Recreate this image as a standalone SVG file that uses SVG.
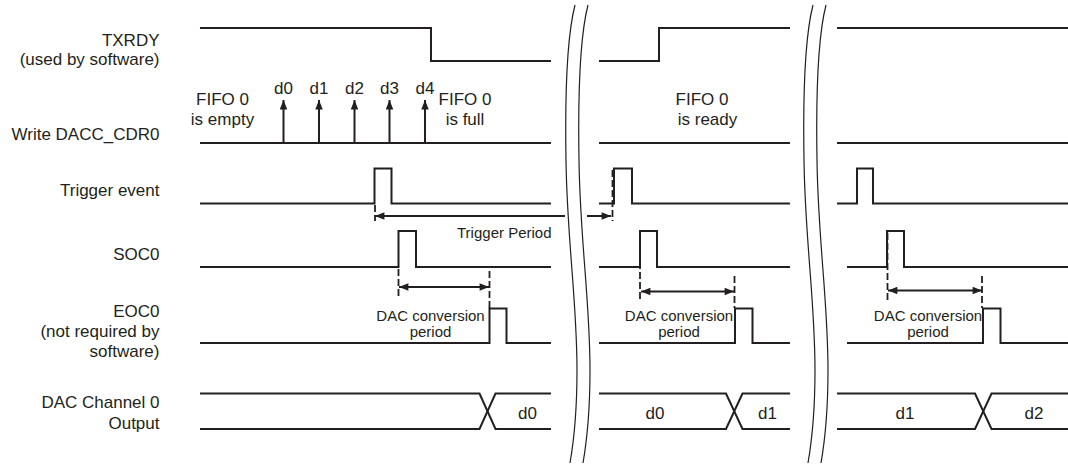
<svg xmlns="http://www.w3.org/2000/svg" width="1068" height="466" viewBox="0 0 1068 466">
<style>
.sig{fill:none;stroke:#231f20;stroke-width:2;stroke-linejoin:miter}
.dash{fill:none;stroke:#231f20;stroke-width:1.8;stroke-dasharray:7,3}
.arr{fill:none;stroke:#231f20;stroke-width:2}
.brk{fill:none;stroke:#231f20;stroke-width:1.2}
.lbl{font-family:"Liberation Sans",Arial,sans-serif;font-size:17px;fill:#231f20;text-anchor:end}
.mid{font-family:"Liberation Sans",Arial,sans-serif;font-size:17px;fill:#231f20;text-anchor:middle}
.sm{font-family:"Liberation Sans",Arial,sans-serif;font-size:15px;fill:#231f20;text-anchor:middle}
</style>
<defs>
<marker id="ah" viewBox="0 0 10 8" refX="10" refY="4" markerWidth="10" markerHeight="7.5" orient="auto-start-reverse" markerUnits="userSpaceOnUse">
<path d="M0,0 L10,4 L0,8 Z" fill="#231f20"/>
</marker>
<path id="brkshape" d="M575,5 C566,40 565,100 566,160 C567,240 577,300 577,370 C577,410 574,440 570,463"/>
</defs>
<rect width="1068" height="466" fill="#fff"/>

<g id="labels">
<text class="lbl" x="159.5" y="45.5">TXRDY</text>
<text class="lbl" x="159.5" y="64.5">(used by software)</text>
<text class="lbl" x="159.5" y="139.5">Write DACC_CDR0</text>
<text class="lbl" x="159.5" y="195.5">Trigger event</text>
<text class="lbl" x="159.5" y="259.5">SOC0</text>
<text class="lbl" x="159.5" y="316.5">EOC0</text>
<text class="lbl" x="159.5" y="336.5">(not required by</text>
<text class="lbl" x="159.5" y="356.5">software)</text>
<text class="lbl" x="159.5" y="407.5">DAC Channel 0</text>
<text class="lbl" x="159.5" y="428.5">Output</text>
</g>

<g id="txrdy">
<path class="sig" d="M200,28 H431 V61 H551"/>
<path class="sig" d="M599,61 H659 V28 H790"/>
<path class="sig" d="M837,28 H1068"/>
</g>

<g id="write">
<path class="sig" d="M200,143 H551"/>
<path class="sig" d="M599,143 H790"/>
<path class="sig" d="M837,143 H1068"/>
<path class="arr" d="M283.5,143 V100" marker-end="url(#ah)"/>
<path class="arr" d="M319,143 V100" marker-end="url(#ah)"/>
<path class="arr" d="M354.5,143 V100" marker-end="url(#ah)"/>
<path class="arr" d="M389.5,143 V100" marker-end="url(#ah)"/>
<path class="arr" d="M425,143 V100" marker-end="url(#ah)"/>
<text class="mid" x="283.5" y="94">d0</text>
<text class="mid" x="319" y="94">d1</text>
<text class="mid" x="354.5" y="94">d2</text>
<text class="mid" x="389.5" y="94">d3</text>
<text class="mid" x="425" y="94">d4</text>
<text class="mid" x="222.5" y="105">FIFO 0</text>
<text class="mid" x="222.5" y="125">is empty</text>
<text class="mid" x="465" y="105">FIFO 0</text>
<text class="mid" x="465" y="125">is full</text>
<text class="mid" x="702" y="105">FIFO 0</text>
<text class="mid" x="707.5" y="125">is ready</text>
</g>

<g id="trigger">
<path class="sig" d="M200,203.5 H374.5 V168.5 H391.5 V203.5 H551"/>
<path class="sig" d="M599,203.5 H614 V168.5 H632 V203.5 H790"/>
<path class="sig" d="M837,203.5 H857 V168.5 H873 V203.5 H1068"/>
</g>

<g id="soc0">
<path class="sig" d="M200,267 H398.5 V231 H416 V267 H551"/>
<path class="sig" d="M599,267 H640 V231 H657 V267 H790"/>
<path class="sig" d="M847,267 H887 V231 H904 V267 H1068"/>
</g>

<g id="eoc0">
<path class="sig" d="M200,343 H489.5 V308.5 H506.5 V343 H551"/>
<path class="sig" d="M599,343 H735 V308.5 H752.5 V343 H790"/>
<path class="sig" d="M847,343 H983 V308.5 H1000.5 V343 H1068"/>
</g>

<g id="dac-output">
<path class="sig" d="M200,393.5 H479.5 L495.5,429 H551"/>
<path class="sig" d="M200,429 H479.5 L495.5,393.5 H551"/>
<path class="sig" d="M599,393.5 H726 L742.5,429 H790"/>
<path class="sig" d="M599,429 H726 L742.5,393.5 H790"/>
<path class="sig" d="M837,393.5 H975 L991.5,429 H1068"/>
<path class="sig" d="M837,429 H975 L991.5,393.5 H1068"/>
<text class="mid" x="527.5" y="419">d0</text>
<text class="mid" x="655" y="419">d0</text>
<text class="mid" x="767.5" y="419">d1</text>
<text class="mid" x="905" y="419">d1</text>
<text class="mid" x="1034" y="419">d2</text>
</g>

<g id="connectors">
<path class="dash" d="M375,205 V221"/>
<path class="dash" d="M612.5,170 V221"/>
<path class="arr" d="M565,216 H375" marker-end="url(#ah)"/>
<path class="arr" d="M587,216 H611" marker-end="url(#ah)"/>
<text class="sm" x="551.5" y="237.5" style="text-anchor:end">Trigger Period</text>

<path class="dash" d="M398.5,269 V299"/>
<path class="dash" d="M489.5,271 V308"/>
<path class="arr" d="M399,287 H489" marker-start="url(#ah)" marker-end="url(#ah)"/>
<text class="sm" x="430.5" y="320.5">DAC conversion</text>
<text class="sm" x="430.5" y="337">period</text>

<path class="dash" d="M640,232 V299"/>
<path class="dash" d="M734.5,276 V308"/>
<path class="arr" d="M641,291.5 H734" marker-start="url(#ah)" marker-end="url(#ah)"/>
<text class="sm" x="679" y="320.5">DAC conversion</text>
<text class="sm" x="679" y="337">period</text>

<path class="dash" d="M887.5,233 V300"/>
<path class="dash" d="M982,276 V308"/>
<path class="arr" d="M888,290.5 H982" marker-start="url(#ah)" marker-end="url(#ah)"/>
<text class="sm" x="928" y="320.5">DAC conversion</text>
<text class="sm" x="928" y="337">period</text>
</g>

<g id="breaks">
<use href="#brkshape" class="brk"/>
<use href="#brkshape" class="brk" transform="translate(13,0)"/>
<use href="#brkshape" class="brk" transform="translate(238,0)"/>
<use href="#brkshape" class="brk" transform="translate(251,0)"/>
</g>
</svg>
